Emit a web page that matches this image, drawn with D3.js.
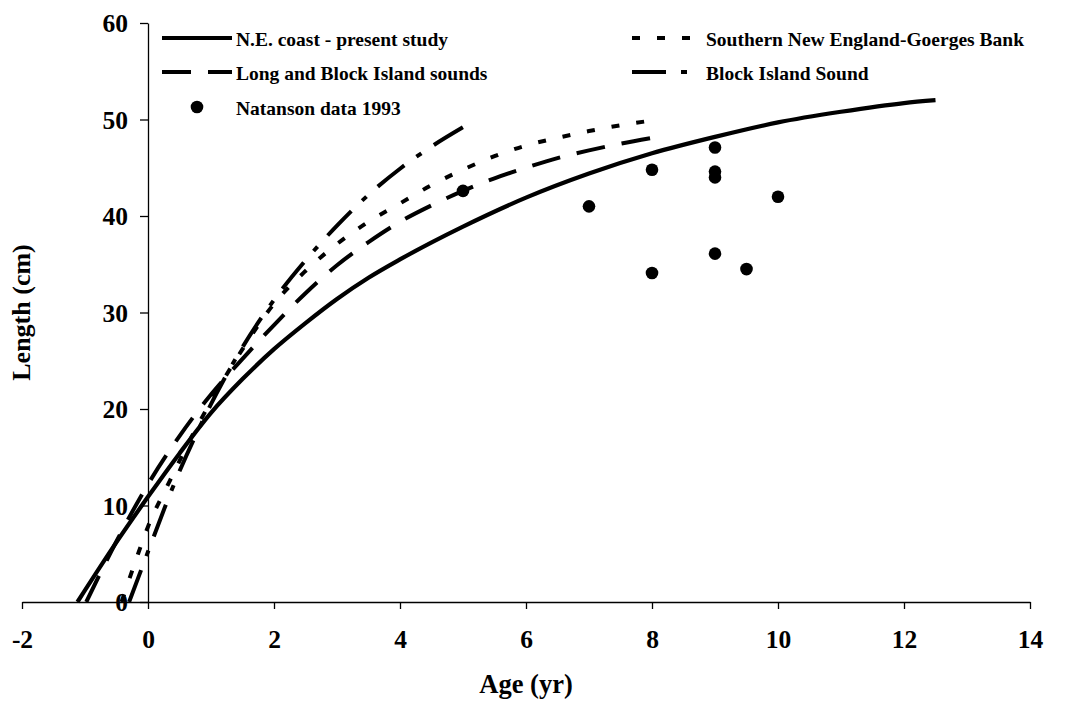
<!DOCTYPE html>
<html>
<head>
<meta charset="utf-8">
<script src="https://cdn.jsdelivr.net/npm/d3@7"></script>
<style>
  html, body { margin: 0; padding: 0; background: #fff; }
  svg { display: block; font-family: "Liberation Serif", "Times New Roman", serif; font-weight: bold; }
</style>
</head>
<body>
<svg id="chart" width="1073" height="702"></svg>
<script>
// Growth curves: age (yr) vs length (cm)
const neCoastAge    = [-1.12, -0.5, 0, 0.5, 1, 1.5, 2, 2.5, 3, 3.5, 4, 5, 6, 7, 8, 9, 10, 11, 12, 12.5];
const neCoastLen    = [0, 6.2, 10.9, 15.4, 19.6, 23.1, 26.2, 28.9, 31.4, 33.6, 35.5, 38.9, 41.9, 44.4, 46.5, 48.2, 49.7, 50.8, 51.7, 52.0];

const longBlockAge  = [-0.98, -0.5, 0, 0.5, 1, 1.5, 2, 2.5, 3, 3.5, 4, 4.5, 5, 5.5, 6, 6.5, 7, 7.5, 8];
const longBlockLen  = [0, 6.3, 12.2, 17.2, 21.5, 25.2, 28.7, 32.0, 34.9, 37.3, 39.4, 41.1, 42.6, 43.9, 45.0, 46.0, 46.8, 47.5, 48.1];

const southNEAge    = [-0.42, -0.2, 0, 0.35, 0.7, 1, 1.5, 2, 2.5, 3, 3.5, 4, 4.5, 5, 5.5, 6, 6.5, 7, 7.5, 8];
const southNELen    = [0, 4.2, 7.8, 12.6, 17.2, 20.8, 26.2, 30.9, 34.3, 37.1, 39.4, 41.3, 43.2, 44.8, 46.2, 47.3, 48.1, 48.8, 49.4, 49.9];

const blockSoundAge = [-0.3, 0, 0.4, 1, 1.5, 2, 2.5, 3, 3.5, 4, 4.5, 5];
const blockSoundLen = [0, 5.2, 12.0, 20.5, 26.4, 31.3, 35.4, 39.0, 42.2, 44.9, 47.2, 49.2];

// Natanson (1993) observations
const natansonAge = [5, 7, 8, 8, 9, 9, 9, 9, 9.5, 10];
const natansonLen = [42.6, 41.0, 44.8, 34.1, 47.1, 44.6, 44.0, 36.1, 34.5, 42.0];

const xTicks = [-2, 0, 2, 4, 6, 8, 10, 12, 14];
const yTicks = [0, 10, 20, 30, 40, 50, 60];

const seriesNames = [
  "N.E. coast - present study",
  "Long and Block Island sounds",
  "Natanson data 1993",
  "Southern New England-Goerges Bank",
  "Block Island Sound"
];

const svg = d3.select("#chart");
svg.append("rect").attr("width", 1073).attr("height", 702).attr("fill", "#fff");

const x = d3.scaleLinear().domain([-2, 14]).range([22, 1030]);
const y = d3.scaleLinear().domain([0, 60]).range([602, 23]);

// Axes cross at the origin
const xAxis = svg.append("g")
  .attr("transform", `translate(0,${y(0)})`)
  .call(d3.axisBottom(x).tickValues(xTicks).tickSize(7).tickSizeOuter(0).tickPadding(22)
        .tickFormat(d => String(d)));
const yAxis = svg.append("g")
  .attr("transform", `translate(${x(0)},0)`)
  .call(d3.axisLeft(y).tickValues(yTicks).tickSize(8).tickSizeOuter(0).tickPadding(12)
        .tickFormat(d => String(d)));

[xAxis, yAxis].forEach(g => {
  g.selectAll("path, line").attr("stroke", "#000").attr("stroke-width", 1.3);
  g.selectAll("text").attr("font-size", 25.5).attr("font-family", "Liberation Serif, serif")
    .attr("font-weight", "bold").attr("fill", "#000");
});
xAxis.selectAll("text").attr("dy", null).attr("y", 46);
yAxis.selectAll("text").attr("dy", "0.34em");

// Axis titles
svg.append("text")
  .attr("x", (x.range()[0] + x.range()[1]) / 2).attr("y", 693)
  .attr("text-anchor", "middle").attr("font-size", 26.5).text("Age (yr)");
svg.append("text")
  .attr("transform", `translate(30,${(y.range()[0] + y.range()[1]) / 2}) rotate(-90)`)
  .attr("text-anchor", "middle").attr("font-size", 26).text("Length (cm)");

const line = d3.line().x(d => x(d[0])).y(d => y(d[1])).curve(d3.curveMonotoneX);

const curves = [
  { age: neCoastAge,    len: neCoastLen,    dash: null,          width: 4.2 },
  { age: longBlockAge,  len: longBlockLen,  dash: "29,17",       width: 4 },
  { age: southNEAge,    len: southNELen,    dash: "8,17",        width: 4 },
  { age: blockSoundAge, len: blockSoundLen, dash: "34,15,6,15",  width: 4 }
];

curves.forEach(c => {
  svg.append("path")
    .datum(d3.zip(c.age, c.len))
    .attr("d", line)
    .attr("fill", "none")
    .attr("stroke", "#000")
    .attr("stroke-width", c.width)
    .attr("stroke-dasharray", c.dash);
});

svg.append("g").selectAll("circle")
  .data(d3.zip(natansonAge, natansonLen))
  .join("circle")
  .attr("cx", d => x(d[0]))
  .attr("cy", d => y(d[1]))
  .attr("r", 6.3)
  .attr("fill", "#000");

// Legend
const legendItems = [
  { name: seriesNames[0], type: "line", dash: null,         col: 0, row: 0 },
  { name: seriesNames[1], type: "line", dash: "29,17",      col: 0, row: 1 },
  { name: seriesNames[2], type: "dot",  dash: null,         col: 0, row: 2 },
  { name: seriesNames[3], type: "line", dash: "8,17",       col: 1, row: 0 },
  { name: seriesNames[4], type: "line", dash: "34,15,6,15", col: 1, row: 1 }
];
const colX = [162, 632];
const rowY = [38, 72, 107];

const legend = svg.append("g");
legendItems.forEach(it => {
  const lx = colX[it.col], ly = rowY[it.row];
  if (it.type === "line") {
    legend.append("line")
      .attr("x1", lx).attr("x2", lx + 70).attr("y1", ly).attr("y2", ly)
      .attr("stroke", "#000").attr("stroke-width", 4)
      .attr("stroke-dasharray", it.dash);
  } else {
    legend.append("circle").attr("cx", lx + 35).attr("cy", ly).attr("r", 6.3).attr("fill", "#000");
  }
  legend.append("text")
    .attr("x", lx + 74).attr("y", ly + 8)
    .attr("font-size", 19.5)
    .text(it.name);
});
</script>
</body>
</html>
